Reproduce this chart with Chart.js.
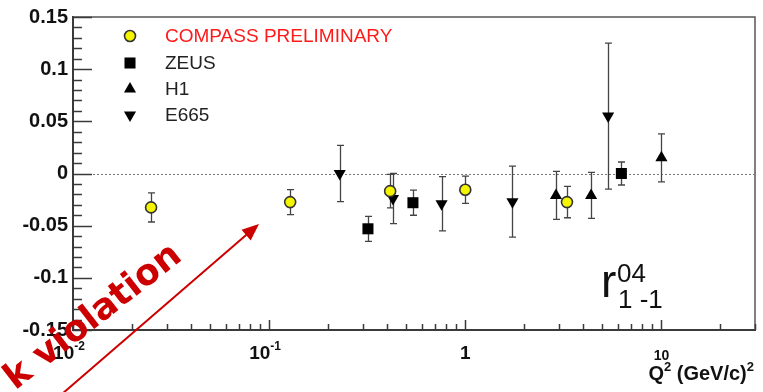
<!DOCTYPE html>
<html>
<head>
<meta charset="utf-8">
<script src="https://cdn.jsdelivr.net/npm/chart.js@4.4.1/dist/chart.umd.min.js"></script>
<style>
  html, body { margin: 0; padding: 0; background: #fff; }
  canvas { display: block; }
</style>
</head>
<body>
<canvas id="chart" width="763" height="392"></canvas>
<script>
// values (Q^2 in (GeV/c)^2, r04_1-1)
const compassX   = [0.025, 0.128, 0.414, 1.0, 3.30];
const compassY   = [-0.0325, -0.0274, -0.0169, -0.0156, -0.0274];
const compassErr = [0.014, 0.012, 0.016, 0.013, 0.015];

const zeusX   = [0.319, 0.541, 6.25];
const zeusY   = [-0.053, -0.028, 0.0];
const zeusErr = [0.012, 0.012, 0.011];

const h1X   = [2.90, 4.38, 10.0];
const h1Y   = [-0.021, -0.021, 0.015];
const h1Err = [0.023, 0.022, 0.023];

const e665X   = [0.229, 0.428, 0.757, 1.74, 5.35];
const e665Y   = [0.0, -0.024, -0.029, -0.027, 0.055];
const e665Err = [0.027, 0.024, 0.026, 0.034, 0.070];

const xMin = 0.01, xMax = 30;
const yMin = -0.15, yMax = 0.15;
const xLabels = [
  { v: 0.01, base: '10', sup: '-2' },
  { v: 0.1,  base: '10', sup: '-1' },
  { v: 1,    base: '1',  sup: '' },
  { v: 10,   base: '10', sup: '' }
];

const toPoints = (xs, ys, errs) => xs.map((x, i) => ({ x, y: ys[i], err: errs[i] }));

const AXIS = '#3a3a3a';
const FONT = '"Liberation Sans", Arial, sans-serif';

// error bars, axis ticks, frame, dotted zero line
const decor = {
  id: 'decor',
  beforeDatasetsDraw(chart) {
    const { ctx, chartArea: a, scales: { x, y } } = chart;
    ctx.save();
    // frame top + right
    ctx.strokeStyle = '#555';
    ctx.lineWidth = 1.5;
    ctx.beginPath();
    ctx.moveTo(a.left, a.top); ctx.lineTo(a.right, a.top); ctx.lineTo(a.right, a.bottom);
    ctx.stroke();
    // dotted zero line
    ctx.strokeStyle = '#777';
    ctx.lineWidth = 1;
    ctx.setLineDash([2, 2]);
    ctx.beginPath();
    const y0 = Math.round(y.getPixelForValue(0)) + 0.5;
    ctx.moveTo(a.left, y0); ctx.lineTo(a.right, y0);
    ctx.stroke();
    ctx.setLineDash([]);

    // y ticks (inward)
    ctx.strokeStyle = AXIS;
    ctx.lineWidth = 1.5;
    for (let i = -15; i <= 15; i++) {
      const py = Math.round(y.getPixelForValue(i / 100)) + 0.5;
      const len = i % 5 === 0 ? 19 : 9;
      ctx.beginPath(); ctx.moveTo(a.left, py); ctx.lineTo(a.left + len, py); ctx.stroke();
    }
    // x ticks (inward)
    for (let d = -2; d <= 1; d++) {
      for (let k = 1; k <= 9; k++) {
        const v = k * Math.pow(10, d);
        if (v > xMax) break;
        const px = Math.round(x.getPixelForValue(v)) + 0.5;
        const len = k === 1 ? 10 : 6;
        ctx.beginPath(); ctx.moveTo(px, a.bottom); ctx.lineTo(px, a.bottom - len); ctx.stroke();
      }
    }

    // error bars
    ctx.strokeStyle = '#444';
    ctx.lineWidth = 1.3;
    chart.data.datasets.forEach(ds => {
      ds.data.forEach(p => {
        const px = Math.round(x.getPixelForValue(p.x)) + 0.5;
        const top = y.getPixelForValue(p.y + p.err);
        const bot = y.getPixelForValue(p.y - p.err);
        ctx.beginPath();
        ctx.moveTo(px, top); ctx.lineTo(px, bot);
        ctx.moveTo(px - 3.5, top); ctx.lineTo(px + 3.5, top);
        ctx.moveTo(px - 3.5, bot); ctx.lineTo(px + 3.5, bot);
        ctx.stroke();
      });
    });
    ctx.restore();
  },
  afterDraw(chart) {
    const { ctx, scales: { x } } = chart;
    ctx.save();
    ctx.fillStyle = '#111';
    ctx.textBaseline = 'alphabetic';

    // x tick labels
    xLabels.forEach(l => {
      const px = x.getPixelForValue(l.v);
      const big = l.v === 10 ? 14 : 19;
      const baseY = l.v === 10 ? 360 : 359;
      ctx.font = `bold ${big}px ${FONT}`;
      const wb = ctx.measureText(l.base).width;
      ctx.font = `bold 12px ${FONT}`;
      const ws = l.sup ? ctx.measureText(l.sup).width : 0;
      const start = l.sup ? px - (wb + ws) / 2 - 4 : px - wb / 2;
      ctx.font = `bold ${big}px ${FONT}`;
      ctx.fillText(l.base, start, baseY);
      if (l.sup) {
        ctx.font = `bold 12px ${FONT}`;
        ctx.fillText(l.sup, start + wb, baseY - 9);
      }
    });

    // axis title Q^2 (GeV/c)^2, right aligned
    const parts = [['Q', 20, 0], ['2', 13, -9], [' (GeV/c)', 20, 0], ['2', 13, -9]];
    let w = 0;
    parts.forEach(p => { ctx.font = `bold ${p[1]}px ${FONT}`; w += ctx.measureText(p[0]).width; });
    let cx = 754 - w;
    parts.forEach(p => {
      ctx.font = `bold ${p[1]}px ${FONT}`;
      ctx.fillText(p[0], cx, 380 + p[2]);
      cx += ctx.measureText(p[0]).width;
    });

    // r^04_{1 -1}
    ctx.font = `46px ${FONT}`;
    ctx.fillText('r', 601, 297);
    ctx.font = `26px ${FONT}`;
    ctx.fillText('04', 617, 282);
    ctx.fillText('1 -1', 618, 308);

    // legend
    const rows = [
      { label: 'COMPASS PRELIMINARY', color: '#ff1a1a', ds: 0, y: 36 },
      { label: 'ZEUS', color: '#222', ds: 1, y: 63 },
      { label: 'H1',   color: '#222', ds: 2, y: 89 },
      { label: 'E665', color: '#222', ds: 3, y: 115 }
    ];
    rows.forEach(r => {
      const ds = chart.data.datasets[r.ds];
      ctx.fillStyle = ds.backgroundColor;
      ctx.strokeStyle = ds.borderColor;
      ctx.lineWidth = ds.borderWidth;
      Chart.helpers.drawPoint(ctx, {
        pointStyle: ds.pointStyle,
        rotation: ds.pointRotation || 0,
        radius: ds.pointRadius,
        borderWidth: ds.borderWidth
      }, 130, r.y);
      ctx.fillStyle = r.color;
      ctx.font = `19px ${FONT}`;
      ctx.textBaseline = 'middle';
      ctx.fillText(r.label, 165, r.y + 1);
      ctx.textBaseline = 'alphabetic';
    });

    // red annotation: arrow and rotated text
    const red = '#cc0000';
    ctx.strokeStyle = red;
    ctx.fillStyle = red;
    ctx.lineWidth = 2;
    const x1 = 62, y1 = 394, x2 = 259, y2 = 224;
    const ang = Math.atan2(y2 - y1, x2 - x1);
    ctx.beginPath();
    ctx.moveTo(x1, y1);
    ctx.lineTo(x2 - 12 * Math.cos(ang), y2 - 12 * Math.sin(ang));
    ctx.stroke();
    ctx.beginPath();
    ctx.moveTo(x2, y2);
    ctx.lineTo(x2 - 17 * Math.cos(ang) + 7 * Math.sin(ang), y2 - 17 * Math.sin(ang) - 7 * Math.cos(ang));
    ctx.lineTo(x2 - 17 * Math.cos(ang) - 7 * Math.sin(ang), y2 - 17 * Math.sin(ang) + 7 * Math.cos(ang));
    ctx.closePath();
    ctx.fill();

    ctx.translate(44, 368);
    ctx.rotate(-38 * Math.PI / 180);
    ctx.font = 'bold 36px "DejaVu Sans", sans-serif';
    const kw = ctx.measureText('k ').width;
    ctx.fillText('k violation', -kw, 0);
    ctx.restore();
  }
};

new Chart(document.getElementById('chart'), {
  type: 'scatter',
  data: {
    datasets: [
      {
        label: 'COMPASS PRELIMINARY',
        data: toPoints(compassX, compassY, compassErr),
        pointStyle: 'circle', pointRadius: 5.5,
        backgroundColor: '#f5f500', borderColor: '#333', borderWidth: 1.6
      },
      {
        label: 'ZEUS',
        data: toPoints(zeusX, zeusY, zeusErr),
        pointStyle: 'rect', pointRadius: 7.8,
        backgroundColor: '#000', borderColor: '#000', borderWidth: 0
      },
      {
        label: 'H1',
        data: toPoints(h1X, h1Y, h1Err),
        pointStyle: 'triangle', pointRadius: 7,
        backgroundColor: '#000', borderColor: '#000', borderWidth: 0
      },
      {
        label: 'E665',
        data: toPoints(e665X, e665Y, e665Err),
        pointStyle: 'triangle', pointRotation: 180, pointRadius: 7,
        backgroundColor: '#000', borderColor: '#000', borderWidth: 0
      }
    ]
  },
  options: {
    responsive: false,
    animation: false,
    devicePixelRatio: 1,
    layout: { padding: { top: 17, right: 8, bottom: 0, left: 0 } },
    plugins: { legend: { display: false }, tooltip: { enabled: false } },
    scales: {
      x: {
        type: 'logarithmic',
        min: xMin, max: xMax,
        grid: { display: false, drawTicks: false },
        border: { display: true, color: AXIS, width: 2 },
        ticks: { display: false },
        afterFit: s => { s.height = 62; }
      },
      y: {
        min: yMin, max: yMax,
        grid: { display: false, drawTicks: false },
        border: { display: true, color: AXIS, width: 2 },
        ticks: {
          stepSize: 0.05,
          padding: 5,
          color: '#111',
          font: { family: FONT, size: 20, weight: 'bold' },
          callback: v => String(Number(v.toFixed(2)))
        },
        afterFit: s => { s.width = 73; }
      }
    }
  },
  plugins: [decor]
});
</script>
</body>
</html>
